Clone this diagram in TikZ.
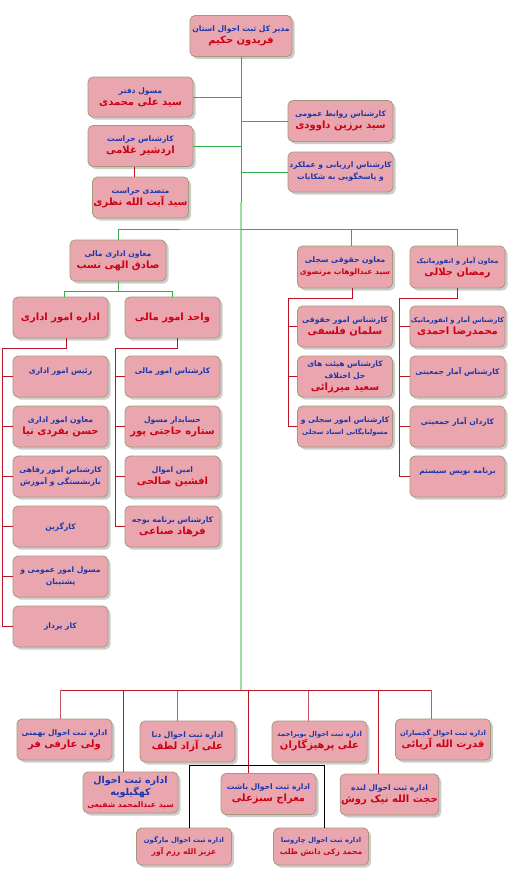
\documentclass[tikz,border=0pt]{standalone}
\usepackage{fontspec}
\newfontfamily\arabicfont[Script=Arabic]{DejaVu Sans}
\TeXXeTstate=1
\usetikzlibrary{shadows}
\definecolor{boxpink}{RGB}{234,166,174}
\definecolor{boxedge}{RGB}{165,152,122}
\definecolor{titleblue}{RGB}{25,55,175}
\definecolor{namered}{RGB}{205,0,20}
\definecolor{linegreen}{RGB}{50,175,70}
\definecolor{palegreen}{RGB}{160,222,160}
\definecolor{linered}{RGB}{185,20,35}
\definecolor{droppink}{RGB}{200,85,105}
\newcommand{\fa}[1]{\beginR #1\endR}
\newcommand{\ttl}[1]{{\color{titleblue}\fontsize{7.6}{10.5}\selectfont\fa{#1}}}
\newcommand{\sqttl}[1]{{\color{titleblue}\fontsize{6.8}{10}\selectfont\fa{#1}}}
\newcommand{\nme}[1]{{\color{namered}\fontsize{10}{13}\selectfont\fa{#1}}}
\newcommand{\bigttl}[1]{{\color{titleblue}\fontsize{9.5}{10.5}\selectfont\fa{#1}}}
\newcommand{\smnme}[1]{{\color{namered}\fontsize{7.6}{9.5}\selectfont\fa{#1}}}
\tikzset{
  unitbox/.style={draw=boxedge, fill=boxpink, rounded corners=5pt, thick,
    minimum width=95pt, minimum height=41pt, inner sep=1pt, align=center,
    font=\arabicfont\bfseries,
    drop shadow={shadow xshift=2.5pt, shadow yshift=-2.5pt, fill=black, opacity=0.2}},
  greenline/.style={linegreen, line width=1pt},
  redline/.style={linered, line width=0.9pt},
}
\begin{document}
\begin{tikzpicture}[x=1pt, y=-1pt]
  \fill[white] (0,0) rectangle (510,870);
  \useasboundingbox (0,0) rectangle (510,870);
  % directorate
  \node[unitbox, minimum width=102pt] (top) at (241,36) {\ttl{مدیر کل ثبت احوال استان}\\\nme{فریدون حکیم}};
  \node[unitbox, minimum width=105pt, minimum height=40pt] (daftar) at (140.5,97) {\ttl{مسول دفتر}\\\nme{سید علی محمدی}};
  \node[unitbox, minimum width=105pt] (herasat) at (140.5,146) {\ttl{کارشناس حراست}\\\nme{اردشیر غلامی}};
  \node[unitbox] (motasadi) at (140.5,197.5) {\ttl{متصدی حراست}\\\nme{سید آیت الله نظری}};
  \node[unitbox, minimum width=105pt] (ravabet) at (340.5,121) {\ttl{کارشناس روابط عمومی}\\\nme{سید برزین داوودی}};
  \node[unitbox, minimum width=105pt, minimum height=40pt] (arzyabi) at (340.5,172) {\ttl{کارشناس ارزیابی و عملکرد}\\\ttl{و پاسخگویی به شکایات}};
  \draw[greenline] (top.south) -- ++(0,145) coordinate (trunk);
  \foreach \n in {daftar,herasat} \draw[greenline] (\n.east) -- (\n.east -| top.south);
  \foreach \n in {ravabet,arzyabi} \draw[greenline] (\n.west) -- (\n.west -| top.south);
  \draw[linered, thin] ([xshift=-6pt]herasat.south) -- ([xshift=-6pt]motasadi.north);
  % deputies
  \coordinate (bus2) at (241,229);
  \coordinate (bus4) at (241,690);
  \draw[palegreen, line width=1.2pt] (trunk) -- (bus4);
  \node[unitbox, minimum width=96pt] (moavenMali) at (118,260.5) {\ttl{معاون اداری مالی}\\\nme{صادق الهی نسب}};
  \node[unitbox, minimum height=42pt] (hoghoghi) at (345,267) {\ttl{معاون حقوقی سجلی}\\\smnme{سید عبدالوهاب مرتضوی}};
  \node[unitbox, minimum height=42pt] (amar) at (457.5,267) {\sqttl{معاون آمار و انفورماتیک}\\\nme{رمضان جلالی}};
  \draw[greenline] (moavenMali.north) |- (bus2) -| (amar.north);
  \draw[greenline] ([xshift=6pt]hoghoghi.north) |- (bus2);
  % administrative and finance
  \node[unitbox] (edari) at (60.5,317.5) {\nme{اداره امور اداری}};
  \node[unitbox] (vahedMali) at (172.5,317.5) {\nme{واحد امور مالی}};
  \draw[greenline] (moavenMali.south) -- ++(0,10) coordinate (bus3);
  \draw[greenline] ([xshift=4pt]edari.north) |- (bus3) -| (vahedMali.north);
  \foreach \n/\txt [count=\i from 0] in {
      rais/{\ttl{رئیس امور اداری}\\~},
      moavenEdari/{\ttl{معاون امور اداری}\\\nme{حسن بفردی نیا}},
      refahi/{\ttl{کارشناس امور رفاهی}\\\ttl{بازنشستگی و آموزش}},
      kargozin/{\ttl{کارگزین}},
      omumi/{\ttl{مسول امور عمومی و}\\\ttl{پشتیبان}},
      karpardaz/{\ttl{کار پرداز}}} {
    \node[unitbox] (\n) at (60.5,376.5+50*\i) {\txt};
    \draw[redline] (\n.west) -- ++(-10,0);
  }
  \draw[redline] ([xshift=6pt]edari.south) -- ++(0,10) -| ([xshift=-10pt]karpardaz.west);
  \foreach \n/\txt [count=\i from 0] in {
      karMali/{\ttl{کارشناس امور مالی}\\~},
      hesabdar/{\ttl{حسابدار مسول}\\\nme{ستاره حاجتی پور}},
      amin/{\ttl{امین اموال}\\\nme{افشین صالحی}},
      budget/{\ttl{کارشناس برنامه بوجه}\\\nme{فرهاد صناعی}}} {
    \node[unitbox] (\n) at (172.5,376.5+50*\i) {\txt};
    \draw[redline] (\n.west) -- ++(-9,0);
  }
  \draw[redline] ([xshift=5pt]vahedMali.south) -- ++(0,10) -| ([xshift=-9pt]budget.west);
  % legal and statistics
  \foreach \n/\txt [count=\i from 0] in {
      kHoghoghi/{\ttl{کارشناس امور حقوقی}\\\nme{سلمان فلسفی}},
      heyat/{\ttl{کارشناس هیئت های}\\\ttl{حل اختلاف}\\\nme{سعید میرزائی}},
      sejeli/{\ttl{کارشناس امور سجلی و}\\\sqttl{مسولبایگانی اسناد سجلی}}} {
    \node[unitbox] (\n) at (345,326.5+50*\i) {\txt};
    \draw[redline] (\n.west) -- ++(-9,0);
  }
  \draw[redline] ([xshift=7pt]hoghoghi.south) -- ++(0,10) -| ([xshift=-9pt]sejeli.west);
  \foreach \n/\txt [count=\i from 0] in {
      kAmar/{\sqttl{کارشناس آمار و انفورماتیک}\\\nme{محمدرضا احمدی}},
      kJamiat/{\ttl{کارشناس آمار جمعیتی}\\~},
      kardan/{\ttl{کاردان آمار جمعیتی}\\~},
      barname/{\ttl{برنامه نویس سیستم}\\~}} {
    \node[unitbox] (\n) at (457.5,326.5+50*\i) {\txt};
    \draw[redline] (\n.west) -- ++(-10,0);
  }
  \draw[redline] (amar.south) -- ++(0,10) -| ([xshift=-10pt]barname.west);
  % county offices
  \node[unitbox] (bahmani) at (64.5,739.5) {\ttl{اداره ثبت احوال بهمنی}\\\nme{ولی عارفی فر}};
  \node[unitbox] (dena) at (187.5,741.5) {\ttl{اداره ثبت احوال دنا}\\\nme{علی آزاد لطف}};
  \node[unitbox] (boyerahmad) at (319.5,741.5) {\sqttl{اداره ثبت احوال بویراحمد}\\\nme{علی پرهیزگاران}};
  \node[unitbox] (gachsaran) at (443,739.5) {\sqttl{اداره ثبت احوال گچساران}\\\nme{قدرت الله آریائی}};
  \node[unitbox] (kohgiluyeh) at (130.5,792.5) {\bigttl{اداره ثبت احوال}\\\bigttl{کهگیلویه}\\\smnme{سید عبدالمحمد شفیعی}};
  \node[unitbox] (bashet) at (268.5,794) {\ttl{اداره ثبت احوال باشت}\\\nme{معراج سبزعلی}};
  \node[unitbox] (landeh) at (389.5,794.5) {\ttl{اداره ثبت احوال لنده}\\\nme{حجت الله نیک روش}};
  \node[unitbox, minimum height=37pt] (margoon) at (184,846.5) {\sqttl{اداره ثبت احوال مارگون}\\\smnme{عزیز الله رزم آور}};
  \node[unitbox, minimum height=37pt] (charusa) at (321,846.5) {\sqttl{اداره ثبت احوال چاروسا}\\\smnme{محمد زکی دانش طلب}};
  \foreach \n/\s in {bahmani/-4,dena/-10,boyerahmad/-11,gachsaran/-12}
    \draw[droppink, line width=0.9pt] ([xshift=\s pt]\n.north) |- (bus4);
  \foreach \n/\s in {kohgiluyeh/-7,bashet/-20,landeh/-11}
    \draw[redline] ([xshift=\s pt]\n.north) |- (bus4);
  \draw[redline] ([xshift=-4pt]bahmani.north |- bus4) -- ([xshift=-12pt]gachsaran.north |- bus4);
  \coordinate (bashetJ) at ([xshift=-20pt,yshift=8pt]bashet.north);
  \draw[black, line width=0.9pt] ([xshift=5pt]margoon.north) |- (bashetJ) -| ([xshift=3pt]charusa.north);
\end{tikzpicture}
\end{document}
